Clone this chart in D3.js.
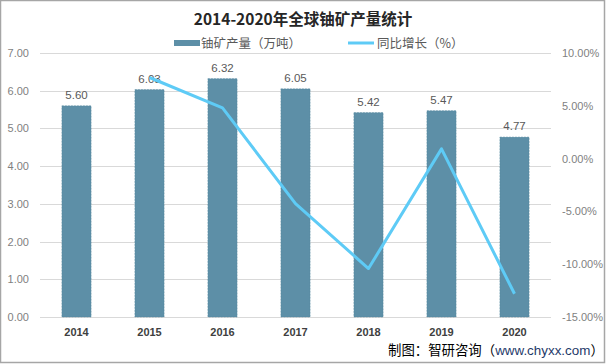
<!DOCTYPE html>
<html><head><meta charset="utf-8">
<script src="https://cdn.jsdelivr.net/npm/d3@7/dist/d3.min.js"></script>
<style>body{margin:0;background:#fff}svg{display:block}</style>
</head><body><svg id="c" width="606" height="364"></svg>
<script>
const years = ["2014","2015","2016","2017","2018","2019","2020"];
const production = [5.60, 6.03, 6.32, 6.05, 5.42, 5.47, 4.77];
const growth = [null, 7.68, 4.81, -4.27, -10.41, 0.92, -12.80];
const leftTicks = [0,1,2,3,4,5,6,7];
const rightTicks = [10,5,0,-5,-10,-15];

const svg = d3.select("#c");
const font = "'Noto Sans CJK SC','Noto Sans',sans-serif";
const latin = "'Liberation Sans','DejaVu Sans',sans-serif";
svg.append("rect").attr("x",0.5).attr("y",0.5).attr("width",604).attr("height",362)
  .attr("fill","#fff").attr("stroke","#a6a6a6").attr("stroke-width",1.5);

const L=40,R=551,T=53,B=317;
const x = d3.scaleBand().domain(years).range([L,R]).paddingInner(0.6).paddingOuter(0.3);
const xc = d => x(d)+x.bandwidth()/2;
const yL = d3.scaleLinear().domain([0,7]).range([B,T]);
const yR = d3.scaleLinear().domain([-15,10]).range([B,T]);

// gridlines
svg.append("g").selectAll("line").data(leftTicks).join("line")
  .attr("x1",L).attr("x2",R).attr("y1",d=>Math.round(yL(d))+0.5).attr("y2",d=>Math.round(yL(d))+0.5)
  .attr("stroke","#d9d9d9").attr("stroke-width",1);

// left axis
const la = svg.append("g").attr("transform",`translate(${L},0)`)
  .call(d3.axisLeft(yL).tickValues(leftTicks).tickFormat(d3.format(".2f")).tickSize(0).tickPadding(11));
la.select(".domain").remove();
la.selectAll("text").attr("fill","#7f7f7f").style("font-family",latin).style("font-size","11px");

// right axis
const ra = svg.append("g").attr("transform",`translate(${R},0)`)
  .call(d3.axisRight(yR).tickValues(rightTicks).tickFormat(d=>d.toFixed(2)+"%").tickSize(0).tickPadding(11));
ra.select(".domain").remove();
ra.selectAll("text").attr("fill","#7f7f7f").style("font-family",latin).style("font-size","11px");

// bottom axis
const ba = svg.append("g").attr("transform",`translate(0,${B})`)
  .call(d3.axisBottom(x).tickSize(0).tickPadding(11));
ba.select(".domain").remove();
ba.selectAll("text").attr("fill","#404040").style("font-family",latin).style("font-size","11px").style("font-weight","bold");

// bars
svg.append("g").selectAll("rect").data(years).join("rect")
  .attr("x",(d)=>x(d)).attr("width",x.bandwidth())
  .attr("y",(d,i)=>yL(production[i])).attr("height",(d,i)=>B-yL(production[i]))
  .attr("fill","#5d8fa7").attr("stroke","#52849c").attr("stroke-width",0.5).attr("stroke-dasharray","2,1");

// bar labels
svg.append("g").selectAll("text").data(years).join("text")
  .attr("x",d=>xc(d)).attr("y",(d,i)=>yL(production[i])-7)
  .attr("text-anchor","middle").attr("fill","#595959")
  .style("font-family",latin).style("font-size","11.5px")
  .text((d,i)=>production[i].toFixed(2));

// line
const pts = years.map((d,i)=>[d,growth[i]]).filter(p=>p[1]!==null);
svg.append("path").datum(pts)
  .attr("d",d3.line().x(p=>xc(p[0])).y(p=>yR(p[1])))
  .attr("fill","none").attr("stroke","#5ecbf6").attr("stroke-width",3).attr("stroke-linejoin","round");

// title
svg.append("text").attr("x",303).attr("y",25).attr("text-anchor","middle")
  .style("font-family",font).style("font-size","15.5px").style("font-weight","bold").attr("fill","#262626")
  .text("2014-2020年全球铀矿产量统计");

// legend
svg.append("rect").attr("x",174).attr("y",40).attr("width",26).attr("height",6).attr("fill","#5d8fa7");
svg.append("text").attr("x",201).attr("y",48).style("font-family",font).style("font-size","12.5px").attr("fill","#595959")
  .text("铀矿产量（万吨）");
svg.append("line").attr("x1",348).attr("x2",374).attr("y1",43).attr("y2",43).attr("stroke","#5ecbf6").attr("stroke-width",3);
svg.append("text").attr("x",377).attr("y",48).style("font-family",font).style("font-size","12.5px").attr("fill","#595959")
  .text("同比增长（%）");

// footer
const ft = svg.append("text").attr("x",388).attr("y",355).style("font-family",font).style("font-size","13.4px").attr("fill","#000");
ft.append("tspan").text("制图：智研咨询（");
ft.append("tspan").attr("fill","#1f3a6a").style("font-family",latin).text("www.chyxx.com");
ft.append("tspan").text("）");
</script></body></html>
